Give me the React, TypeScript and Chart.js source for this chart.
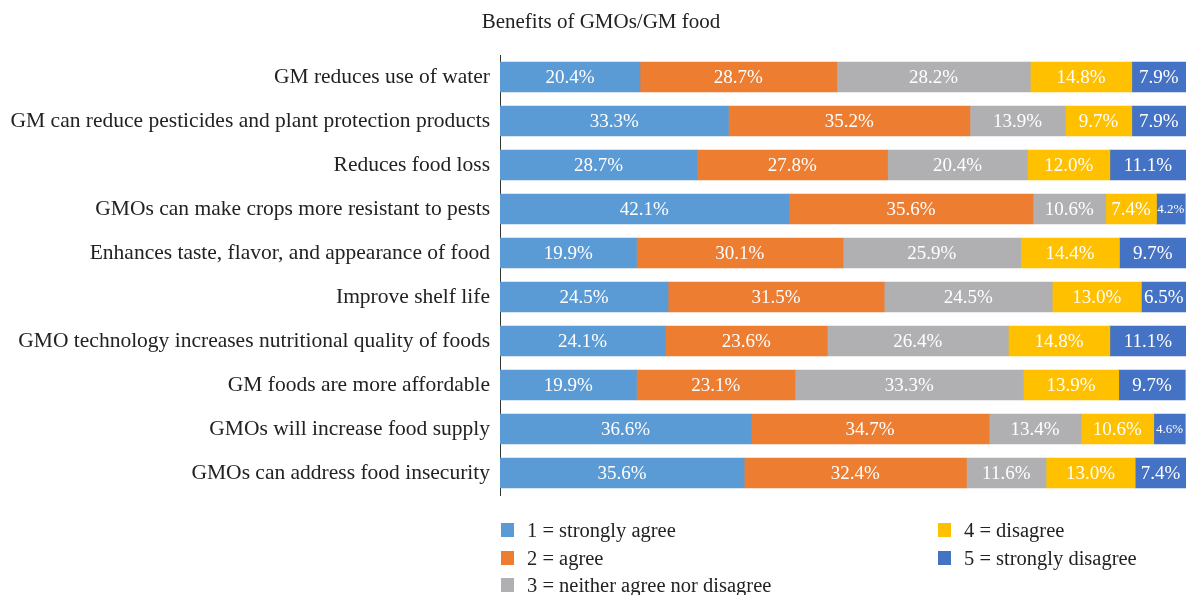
import React, { useEffect, useRef } from "react";
import { Chart, registerables } from "chart.js";

Chart.register(...registerables);

const TITLE = "Benefits of GMOs/GM food";

const categories = [
  "GM reduces use of water",
  "GM can reduce pesticides and plant protection products",
  "Reduces food loss",
  "GMOs can make crops more resistant to pests",
  "Enhances taste, flavor, and appearance of food",
  "Improve shelf life",
  "GMO technology increases nutritional quality of foods",
  "GM foods are more affordable",
  "GMOs will increase food supply",
  "GMOs can address food insecurity",
];

const seriesNames = [
  "1 = strongly agree",
  "2 = agree",
  "3 = neither agree nor disagree",
  "4 = disagree",
  "5 = strongly disagree",
];

const stronglyAgree = [20.4, 33.3, 28.7, 42.1, 19.9, 24.5, 24.1, 19.9, 36.6, 35.6];
const agree = [28.7, 35.2, 27.8, 35.6, 30.1, 31.5, 23.6, 23.1, 34.7, 32.4];
const neither = [28.2, 13.9, 20.4, 10.6, 25.9, 24.5, 26.4, 33.3, 13.4, 11.6];
const disagree = [14.8, 9.7, 12.0, 7.4, 14.4, 13.0, 14.8, 13.9, 10.6, 13.0];
const stronglyDisagree = [7.9, 7.9, 11.1, 4.2, 9.7, 6.5, 11.1, 9.7, 4.6, 7.4];

const seriesValues = [stronglyAgree, agree, neither, disagree, stronglyDisagree];
const colors = ["#5B9BD5", "#ED7D31", "#B0B0B3", "#FFC000", "#4472C4"];

const FONT = "'Liberation Serif', 'Times New Roman', serif";

const dataLabelPlugin = {
  id: "dataLabels",
  afterDatasetsDraw(chart: any) {
    const ctx = chart.ctx;
    ctx.save();
    ctx.fillStyle = "#ffffff";
    ctx.textAlign = "center";
    ctx.textBaseline = "middle";
    chart.data.datasets.forEach((ds: any, di: number) => {
      const meta = chart.getDatasetMeta(di);
      meta.data.forEach((bar: any, i: number) => {
        const v = ds.data[i];
        const w = Math.abs(bar.x - bar.base);
        const size = w < 36 ? 13 : 19;
        ctx.font = `${size}px ${FONT}`;
        const cx = (bar.x + bar.base) / 2;
        ctx.fillText(v.toFixed(1) + "%", cx, bar.y + 1);
      });
    });
    ctx.restore();
  },
};

export default function App() {
  const ref = useRef<HTMLCanvasElement | null>(null);

  useEffect(() => {
    if (!ref.current) return;
    const chart = new Chart(ref.current, {
      type: "bar",
      data: {
        labels: categories,
        datasets: seriesValues.map((vals, i) => ({
          label: seriesNames[i],
          data: vals,
          backgroundColor: colors[i],
          borderWidth: 0,
          barThickness: 30,
        })),
      },
      options: {
        indexAxis: "y",
        animation: false,
        responsive: false,
        maintainAspectRatio: false,
        layout: { padding: { left: 0, right: 1, top: 55, bottom: 100 } },
        plugins: {
          legend: { display: false },
          tooltip: { enabled: false },
          title: { display: false },
        },
        scales: {
          x: {
            stacked: true,
            display: false,
            min: 0,
            max: 100,
          },
          y: {
            stacked: true,
            grid: { display: false, drawTicks: false },
            border: { display: true, color: "#333333", width: 1 },
            ticks: {
              color: "#222222",
              padding: 10,
              font: { family: FONT, size: 21.5 },
            },
            afterFit(scale: any) {
              scale.width = 500;
            },
          },
        },
      },
      plugins: [dataLabelPlugin],
    });
    return () => chart.destroy();
  }, []);

  const legendPos = [
    { sq: 501, tx: 527, base: 537 },
    { sq: 501, tx: 527, base: 565 },
    { sq: 501, tx: 527, base: 592 },
    { sq: 938, tx: 964, base: 537 },
    { sq: 938, tx: 964, base: 565 },
  ];

  return (
    <div style={{ position: "fixed", left: 0, top: 0, width: 1187, height: 595, background: "#fff", overflow: "hidden" }}>
      <canvas ref={ref} width={1187} height={595} style={{ display: "block" }} />
      <div
        style={{
          position: "absolute",
          left: 401,
          width: 400,
          top: 9,
          lineHeight: "24px",
          textAlign: "center",
          fontFamily: FONT,
          fontSize: 21,
          color: "#222222",
          whiteSpace: "nowrap",
        }}
      >
        {TITLE}
      </div>
      {seriesNames.map((name, i) => (
        <React.Fragment key={name}>
          <div
            style={{
              position: "absolute",
              left: legendPos[i].sq,
              top: legendPos[i].base - 14,
              width: 13,
              height: 14,
              background: colors[i],
            }}
          />
          <div
            style={{
              position: "absolute",
              left: legendPos[i].tx,
              top: legendPos[i].base - 19,
              lineHeight: "24px",
              fontFamily: FONT,
              fontSize: 20.5,
              color: "#222222",
              whiteSpace: "nowrap",
            }}
          >
            {name}
          </div>
        </React.Fragment>
      ))}
    </div>
  );
}
